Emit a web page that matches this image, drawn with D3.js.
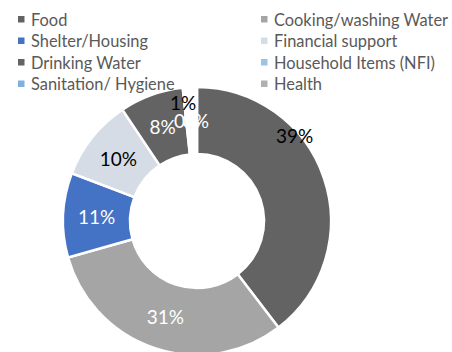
<!DOCTYPE html>
<html><head><meta charset="utf-8">
<script src="https://cdn.jsdelivr.net/npm/d3@7"></script>
<style>body{margin:0;background:#fff;}svg{display:block;}</style>
</head><body>
<svg id="c" width="452" height="352"></svg>
<script>
const categories = ["Food","Cooking/washing Water","Shelter/Housing","Financial support","Drinking Water","Household Items (NFI)","Sanitation/ Hygiene","Health"];
const values = [39.6, 31.0, 10.2, 9.8, 7.7, 0.3, 1.0, 0.4];
const labels = ["39%","31%","11%","10%","8%","0%","1%","0%"];
const legendColors = ["#636363","#a5a5a5","#4472c4","#d6dce5","#636363","#9dc3e6","#7eb1e1","#b0b0b0"];
const sliceColors = ["#636363","#a5a5a5","#4472c4","#d6dce5","#636363","#9dc3e6","#ffffff","#ffffff"];
const labelColors = ["#000","#fff","#fff","#000","#fff","#fff","#000","#fff"];

const svg = d3.select("#c");
const font = "Lato, sans-serif";
const cx = 197, cy = 221, R = 134, r = 67;

const pie = d3.pie().sort(null).value(d => d)(values);
const arc = d3.arc().innerRadius(r).outerRadius(R);
const g = svg.append("g").attr("transform", `translate(${cx},${cy})`);
g.selectAll("path").data(pie).join("path")
  .attr("d", arc)
  .attr("fill", (d,i) => sliceColors[i])
  .attr("stroke", "#fff").attr("stroke-width", 2.5);

g.selectAll("text").data(pie).join("text")
  .attr("transform", (d,i) => {
    let a = (d.startAngle + d.endAngle)/2, rad = (r+R)/2;
    if (i === 0) { rad = 130; a = 48.7*Math.PI/180; }
    if (i === 6) { rad = 119; a -= 0.06; }
    return `translate(${Math.sin(a)*rad},${-Math.cos(a)*rad})`;
  })
  .attr("text-anchor","middle").attr("dominant-baseline","central")
  .attr("font-family", font).attr("font-size", 19)
  .attr("fill", (d,i) => labelColors[i])
  .text((d,i) => labels[i]);

const lg = svg.append("g");
categories.forEach((c,i) => {
  const col = i % 2, row = Math.floor(i/2);
  const x = col ? 261 : 18, y = 19 + row*21.5;
  lg.append("rect").attr("x", x).attr("y", y-3).attr("width",6.5).attr("height",6.5).attr("fill", legendColors[i]);
  lg.append("text").attr("x", x+13).attr("y", y).attr("dominant-baseline","central")
    .attr("font-family", font).attr("font-size", 16.4).attr("fill","#595959").text(c);
});
</script>
</body></html>
